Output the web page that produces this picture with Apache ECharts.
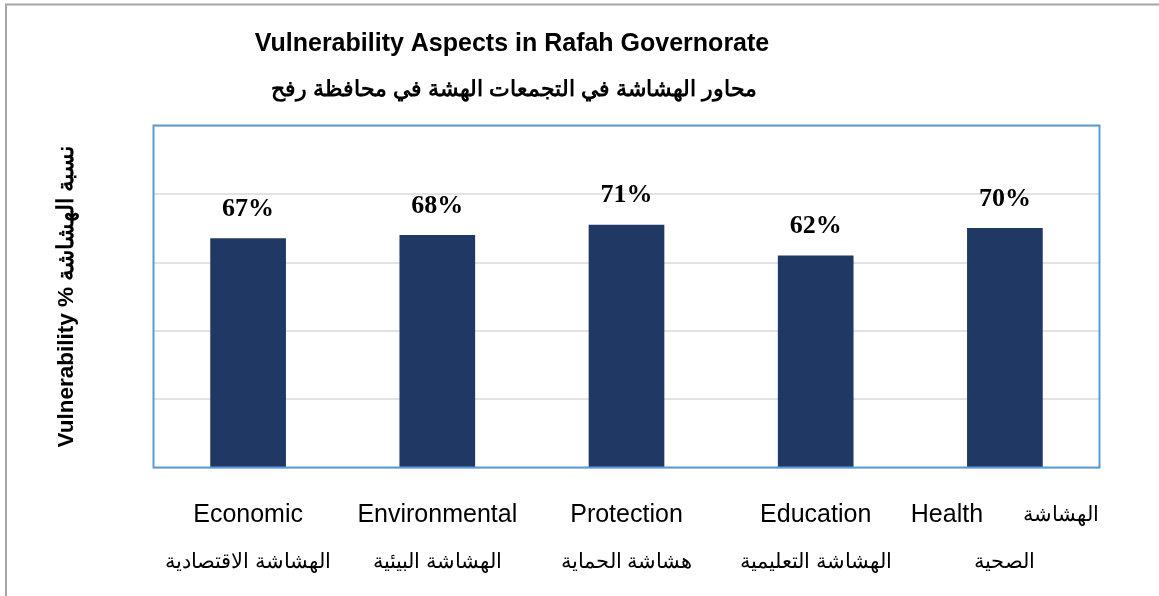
<!DOCTYPE html>
<html><head><meta charset="utf-8">
<script src="https://cdn.jsdelivr.net/npm/echarts@6/dist/echarts.min.js"></script>
<style>html,body{margin:0;padding:0;background:#fff}#c{width:1159px;height:596px}</style>
</head><body><div id="c"></div>
<script>
const categoriesEn = ["Economic", "Environmental", "Protection", "Education", "Health"];
const categoriesAr1 = ["", "", "", "", "الهشاشة"];
const categoriesAr2 = ["الهشاشة الاقتصادية", "الهشاشة البيئية", "هشاشة الحماية", "الهشاشة التعليمية", "الصحية"];
const values = [67, 68, 71, 62, 70];
const titleText = "Vulnerability Aspects in Rafah Governorate";
const subtitleText = "محاور الهشاشة في التجمعات الهشة في محافظة رفح";
const yAxisName = "Vulnerability % نسبة الهشاشة";

const categories = categoriesEn.map((e, i) =>
  '{en|' + e + '}' + (categoriesAr1[i] ? '{gap|}{ar|' + categoriesAr1[i] + '}' : '') + '\n{ar|' + categoriesAr2[i] + '}');

const chart = echarts.init(document.getElementById('c'), null, {renderer: 'canvas'});
chart.setOption({
  animation: false,
  backgroundColor: '#fff',
  graphic: [{
    type: 'rect', shape: {x: 6, y: 4.5, width: 1170, height: 610},
    style: {fill: 'none', stroke: '#a6a6a6', lineWidth: 2}, z: -1, silent: true
  }, {
    type: 'rect', shape: {x: 153.5, y: 125.5, width: 946, height: 342},
    style: {fill: 'none', stroke: '#5b9bd5', lineWidth: 2}, z: 100, silent: true
  }],
  title: [{
    text: titleText, left: 507, top: 27, textAlign: 'center',
    textStyle: {fontFamily: 'Liberation Sans, Arial', fontWeight: 'bold', fontSize: 25, color: '#000'}
  }, {
    text: subtitleText, left: 509, top: 74, textAlign: 'center',
    textStyle: {fontFamily: 'Liberation Sans, Arial', fontWeight: 'bold', fontSize: 22, color: '#000'}
  }],
  grid: {left: 153.5, top: 125.5, right: 59.5, bottom: 128.5, show: false, containLabel: false},
  xAxis: {
    type: 'category', data: categories,
    axisLine: {show: false}, axisTick: {show: false},
    axisLabel: {interval: 0, margin: 24, lineHeight: 47, color: '#000',
      rich: {
        en: {fontSize: 25, fontFamily: 'Liberation Sans, Arial', lineHeight: 47, color: '#000'},
        ar: {fontSize: 21, fontFamily: 'Liberation Sans, Arial', lineHeight: 47, color: '#000'},
        gap: {width: 40, lineHeight: 47}
      }}
  },
  yAxis: {
    type: 'value', min: 0, max: 100, interval: 20,
    name: yAxisName, nameLocation: 'middle', nameGap: 75, nameRotate: 90,
    nameTextStyle: {fontFamily: 'Liberation Sans, Arial', fontWeight: 'bold', fontSize: 22.5, color: '#000', padding: [0, 0, 0, 0]},
    axisLabel: {show: false}, axisLine: {show: false}, axisTick: {show: false},
    splitLine: {lineStyle: {color: '#d9d9d9', width: 1.5}}
  },
  series: [{
    type: 'bar', data: values, barCategoryGap: '60%',
    itemStyle: {color: '#203864'},
    label: {show: true, position: 'top', distance: 16, formatter: '{c}%',
      fontFamily: 'Liberation Serif, Times New Roman', fontWeight: 'bold', fontSize: 26, color: '#000'}
  }]
});
</script></body></html>
